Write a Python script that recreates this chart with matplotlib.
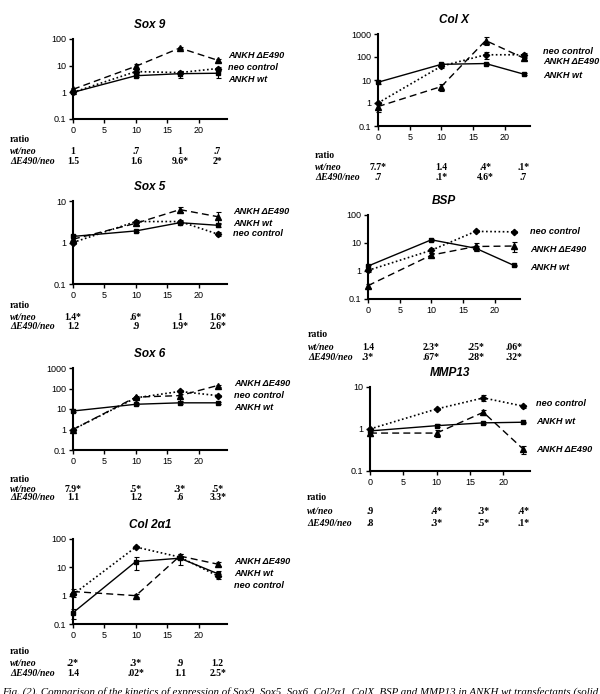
import matplotlib.pyplot as plt
from matplotlib.ticker import FixedLocator, FuncFormatter, NullLocator
from matplotlib.transforms import blended_transform_factory

plt.rcParams['font.family'] = ['Liberation Sans', 'DejaVu Sans']

# ---- data (days of culture) ----
days = [0, 10, 17, 23]

# Sox 9
sox9_wt = [1.0, 4.2, 5.0, 5.2]
sox9_wt_err = [0.1, 0.5, 1.5, 1.8]
sox9_neo = [1.0, 6.0, 5.5, 7.8]
sox9_neo_err = [0.1, 1.5, 0.8, 1.5]
sox9_d490 = [1.3, 9.5, 46, 16]
sox9_d490_err = [0.2, 2.5, 5, 2]
sox9_ratio_wt = ['1', '.7', '1', '.7']
sox9_ratio_d490 = ['1.5', '1.6', '9.6*', '2*']

# Sox 5
sox5_wt = [1.4, 1.9, 3.0, 2.6]
sox5_wt_err = [0.1, 0.1, 0.2, 0.2]
sox5_neo = [1.0, 3.2, 3.2, 1.6]
sox5_neo_err = [0.1, 0.3, 0.3, 0.15]
sox5_d490 = [1.2, 2.9, 6.2, 4.2]
sox5_d490_err = [0.1, 0.3, 0.8, 1.3]
sox5_ratio_wt = ['1.4*', '.6*', '1', '1.6*']
sox5_ratio_d490 = ['1.2', '.9', '1.9*', '2.6*']

# Sox 6
sox6_wt = [8.0, 17, 20, 20]
sox6_wt_err = [1, 2, 3, 2]
sox6_neo = [1.0, 35, 72, 45]
sox6_neo_err = [0.1, 5, 15, 5]
sox6_d490 = [1.0, 38, 45, 140]
sox6_d490_err = [0.1, 5, 20, 15]
sox6_ratio_wt = ['7.9*', '.5*', '.3*', '.5*']
sox6_ratio_d490 = ['1.1', '1.2', '.6', '3.3*']

# Col 2a1
col2_wt = [0.25, 16, 21, 6.0]
col2_wt_err = [0.1, 8, 9, 1.5]
col2_neo = [1.1, 52, 23, 5.0]
col2_neo_err = [0.2, 3, 3, 1]
col2_d490 = [1.4, 1.0, 25, 13]
col2_d490_err = [0.3, 0.1, 5, 2]
col2_ratio_wt = ['.2*', '.3*', '.9', '1.2']
col2_ratio_d490 = ['1.4', '.02*', '1.1', '2.5*']

# Col X
colx_wt = [8.0, 48, 52, 18]
colx_wt_err = [1, 8, 5, 2]
colx_neo = [1.0, 40, 125, 125]
colx_neo_err = [0.1, 8, 40, 30]
colx_d490 = [0.7, 5.2, 520, 90]
colx_d490_err = [0.3, 1.8, 200, 15]
colx_ratio_wt = ['7.7*', '1.4', '.4*', '.1*']
colx_ratio_d490 = ['.7', '.1*', '4.6*', '.7']

# BSP
bsp_wt = [1.5, 13, 6.5, 1.6]
bsp_wt_err = [0.2, 1, 1.5, 0.1]
bsp_neo = [1.05, 5.5, 26, 25]
bsp_neo_err = [0.1, 1, 2, 2]
bsp_d490 = [0.3, 3.7, 7.5, 7.8]
bsp_d490_err = [0.05, 0.6, 2.2, 3]
bsp_ratio_wt = ['1.4', '2.3*', '.25*', '.06*']
bsp_ratio_d490 = ['.3*', '.67*', '.28*', '.32*']

# MMP13
mmp13_wt = [0.9, 1.2, 1.4, 1.45]
mmp13_wt_err = [0.05, 0.1, 0.1, 0.05]
mmp13_neo = [1.0, 3.0, 5.5, 3.5]
mmp13_neo_err = [0.05, 0.2, 0.8, 0.3]
mmp13_d490 = [0.8, 0.8, 2.5, 0.33]
mmp13_d490_err = [0.1, 0.15, 0.4, 0.07]
mmp13_ratio_wt = ['.9', '.4*', '.3*', '.4*']
mmp13_ratio_d490 = ['.8', '.3*', '.5*', '.1*']

# ---- figure ----
W, H = 600, 694
fig = plt.figure(figsize=(W / 100, H / 100), dpi=100)

line_styles = [
    dict(linestyle='-', marker='s', ms=3.5, lw=1.0),             # ANKH wt
    dict(linestyle=(0, (1, 1.5)), marker='D', ms=3.2, lw=1.2),  # neo control
    dict(linestyle=(0, (5, 3)), marker='^', ms=4.0, lw=1.0),    # ANKH dE490
]
label_text = {'wt': 'ANKH wt', 'neo': 'neo control', 'd': 'ANKH \u0394E490'}


def px_rect(left, top, right, bottom):
    return [left / W, 1 - bottom / H, (right - left) / W, (bottom - top) / H]


def fy(py):
    return 1 - py / H


def panel(rect, xmax, title, ytop, series, labels, lab_x, table_x, table_y,
          ratio_wt, ratio_d):
    ax = fig.add_axes(rect)
    for (vals, err), st in zip(series, line_styles):
        ax.errorbar(days, vals, yerr=err, color='black', capsize=1.8,
                    elinewidth=0.8, capthick=0.8, clip_on=False, **st)
    ax.set_yscale('log')
    ax.set_ylim(0.1, ytop)
    ax.set_xlim(0, xmax)
    decades = [0.1, 1, 10, 100, 1000]
    ax.yaxis.set_major_locator(FixedLocator([d for d in decades if d <= ytop]))
    ax.yaxis.set_minor_locator(NullLocator())
    ax.yaxis.set_major_formatter(FuncFormatter(lambda v, p: '%g' % v))
    ax.set_xticks([0, 5, 10, 15, 20])
    for s in ['top', 'right']:
        ax.spines[s].set_visible(False)
    for s in ['left', 'bottom']:
        ax.spines[s].set_linewidth(1.5)
    ax.tick_params(labelsize=6.5, length=3, width=1, pad=2)
    ax.set_title(title, fontsize=8.5, fontweight='bold', fontstyle='italic', pad=8)

    for (key, py) in labels:
        fig.text(lab_x / W, fy(py), label_text[key], fontsize=6.6,
                 fontweight='bold', fontstyle='italic', va='center')

    # ratio table
    tr = blended_transform_factory(ax.transData, fig.transFigure)
    serif = ['Liberation Serif', 'DejaVu Serif']
    fig.text(table_x / W, fy(table_y[0]), 'ratio', family=serif,
             fontsize=7, fontweight='bold', va='center')
    rows = [('wt/neo', ratio_wt, table_y[1]), ('\u0394E490/neo', ratio_d, table_y[2])]
    for name, vals, py in rows:
        fig.text(table_x / W, fy(py), name, family=serif, fontsize=7,
                 fontweight='bold', fontstyle='italic', va='center')
        for d, v in zip(days, vals):
            ax.text(d, fy(py), v, transform=tr, family=serif, fontsize=7,
                    fontweight='bold', ha='center', va='center')
    return ax


# left column
panel(px_rect(73, 39, 227, 119), 24.5, 'Sox 9', 100,
      [(sox9_wt, sox9_wt_err), (sox9_neo, sox9_neo_err), (sox9_d490, sox9_d490_err)],
      [('d', 55), ('neo', 67), ('wt', 79)], 228, 10, (140, 152, 162),
      sox9_ratio_wt, sox9_ratio_d490)

panel(px_rect(73, 201, 227, 284), 24.5, 'Sox 5', 10,
      [(sox5_wt, sox5_wt_err), (sox5_neo, sox5_neo_err), (sox5_d490, sox5_d490_err)],
      [('d', 211), ('wt', 223), ('neo', 234)], 233, 10, (306, 317, 327),
      sox5_ratio_wt, sox5_ratio_d490)

panel(px_rect(73, 368, 227, 450), 24.5, 'Sox 6', 1000,
      [(sox6_wt, sox6_wt_err), (sox6_neo, sox6_neo_err), (sox6_d490, sox6_d490_err)],
      [('d', 383), ('neo', 395), ('wt', 407)], 234, 10, (479, 489, 498),
      sox6_ratio_wt, sox6_ratio_d490)

panel(px_rect(73, 539, 227, 624), 24.5, 'Col 2\u03b11', 100,
      [(col2_wt, col2_wt_err), (col2_neo, col2_neo_err), (col2_d490, col2_d490_err)],
      [('d', 562), ('wt', 574), ('neo', 586)], 234, 10, (651, 663, 674),
      col2_ratio_wt, col2_ratio_d490)

# right column
panel(px_rect(378, 34, 530, 126), 24, 'Col X', 1000,
      [(colx_wt, colx_wt_err), (colx_neo, colx_neo_err), (colx_d490, colx_d490_err)],
      [('neo', 52), ('d', 62), ('wt', 76)], 543, 315, (155, 167, 178),
      colx_ratio_wt, colx_ratio_d490)

panel(px_rect(368, 215, 520, 299), 24, 'BSP', 100,
      [(bsp_wt, bsp_wt_err), (bsp_neo, bsp_neo_err), (bsp_d490, bsp_d490_err)],
      [('neo', 232), ('d', 249), ('wt', 267)], 530, 308, (335, 347, 357),
      bsp_ratio_wt, bsp_ratio_d490)

panel(px_rect(370, 387, 530, 471), 24, 'MMP13', 10,
      [(mmp13_wt, mmp13_wt_err), (mmp13_neo, mmp13_neo_err), (mmp13_d490, mmp13_d490_err)],
      [('neo', 403), ('wt', 422), ('d', 450)], 536, 307, (497, 512, 523),
      mmp13_ratio_wt, mmp13_ratio_d490)

# caption (cut off at the bottom edge, as in the scan)
fig.text(0.003, fy(687), 'Fig. (2). Comparison of the kinetics of expression of Sox9, Sox5, '
         'Sox6, Col2\u03b11, ColX, BSP and MMP13 in ANKH wt transfectants (solid',
         family=['Liberation Serif', 'DejaVu Serif'], fontstyle='italic',
         fontsize=7.8, va='top')

fig.savefig('out.png', dpi=100)
